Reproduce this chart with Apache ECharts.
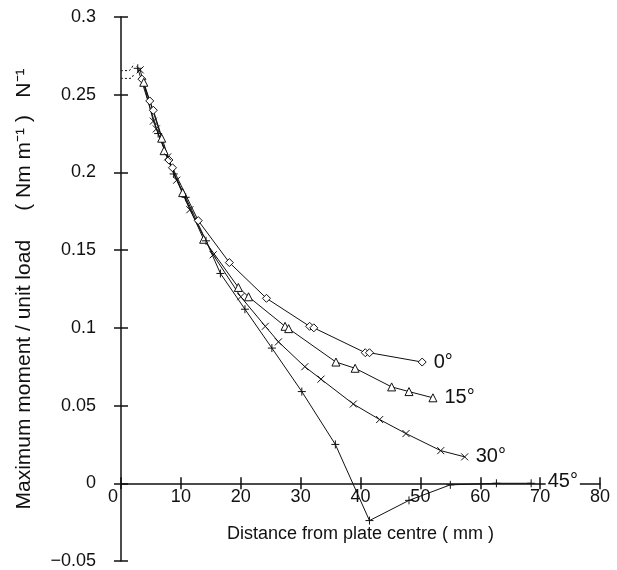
<!DOCTYPE html>
<html>
<head>
<meta charset="utf-8">
<script src="https://cdn.jsdelivr.net/npm/echarts@6/dist/echarts.min.js"></script>
<style>html,body{margin:0;padding:0;background:#fff}#c{width:617px;height:570px}</style>
</head>
<body>
<div id="c"></div>
<script>
// ---- data (distance mm, moment per unit load) ----
const xTicks = [0, 10, 20, 30, 40, 50, 60, 70, 80];
const yTicks = [-0.05, 0, 0.05, 0.1, 0.15, 0.2, 0.25, 0.3];
const seriesNames = ['0°', '15°', '30°', '45°'];
const angle0 = [[3.5,0.26],[4.8,0.246],[5.4,0.24],[8.0,0.208],[8.6,0.203],[12.9,0.169],[18.1,0.142],[24.3,0.119],[31.5,0.101],[32.2,0.100],[40.8,0.084],[41.5,0.084],[50.3,0.078]];
const angle15 = [[3.8,0.258],[6.8,0.222],[7.2,0.214],[10.3,0.187],[13.8,0.157],[19.6,0.126],[21.3,0.120],[27.4,0.101],[28.0,0.0995],[35.9,0.078],[39.1,0.074],[45.2,0.062],[48.1,0.059],[52.1,0.055]];
const angle30 = [[3.2,0.266],[5.4,0.233],[5.9,0.228],[7.8,0.21],[9.3,0.195],[11.5,0.176],[15.4,0.147],[20.0,0.12],[24.1,0.101],[26.3,0.091],[30.7,0.075],[33.4,0.067],[38.8,0.051],[43.2,0.041],[47.6,0.032],[53.4,0.021],[57.4,0.017]];
const angle45 = [[2.8,0.267],[6.2,0.225],[8.8,0.199],[10.8,0.184],[14.2,0.156],[16.6,0.135],[20.7,0.112],[25.2,0.087],[30.2,0.059],[35.8,0.025],[41.5,-0.024],[48.1,-0.011],[55.0,-0.001],[62.7,0],[68.5,0]];
const extrapUpper = [[0,0.2655],[1.2,0.2655],[2.1,0.27]];
const extrapLower = [[0,0.2605],[1.5,0.2605],[2.2,0.264]];

const FONT = "'Liberation Sans', Arial, sans-serif";
const INK = '#111';
const chart = echarts.init(document.getElementById('c'));

const crossPath = 'path://M0,0L10,10M10,0L0,10';
const plusPath = 'path://M5,0L5,10M0,5L10,5';

// layout
const GRID_TOP = 17, GRID_BOTTOM_PX = 561, H = 570;
const yMin = yTicks[0], yMax = yTicks[yTicks.length - 1];
const zeroOffset = -((GRID_BOTTOM_PX - GRID_TOP) * (0 - yMin) / (yMax - yMin));

function mkSeries(name, data, symbol, size, labelOpts) {
  const last = data.length - 1;
  return {
    name, type: 'line', data, symbol, symbolSize: size,
    xAxisIndex: 0, yAxisIndex: 0,
    lineStyle: { color: INK, width: 1 },
    itemStyle: { color: symbol.startsWith('path') ? 'transparent' : '#fff', borderColor: INK, borderWidth: 1 },
    label: Object.assign({
      show: true, position: 'right', distance: 7,
      fontFamily: FONT, fontSize: 20, color: INK,
      formatter: p => p.dataIndex === last ? name : ''
    }, labelOpts || {}),
    emphasis: { disabled: true },
    z: 5
  };
}

const yLab = v => {
  if (Math.abs(v) < 1e-9) return '0';
  let s = Math.abs(v).toFixed(2);
  if (s.endsWith('0')) s = s.slice(0, -1);
  return (v < 0 ? '\u2212' + s : s);
};

const axisLineStyle = { color: INK, width: 1.5 };

chart.setOption({
  animation: false,
  backgroundColor: '#fff',
  grid: { left: 121, right: 17, top: GRID_TOP, bottom: H - GRID_BOTTOM_PX, containLabel: false, outerBoundsMode: 'none' },
  xAxis: [
    {
      type: 'value', min: xTicks[0], max: xTicks[xTicks.length - 1], interval: 10,
      position: 'bottom', offset: zeroOffset,
      axisLine: { onZero: false, lineStyle: axisLineStyle },
      axisTick: { show: true, length: 6, lineStyle: { color: INK, width: 1.5 } },
      splitLine: { show: false },
      axisLabel: {
        fontFamily: FONT, fontSize: 18, color: INK, margin: 5,
        formatter: v => v === 0 ? '{z|0}' : String(v),
        rich: { z: { fontFamily: FONT, fontSize: 18, color: INK, padding: [0, 16, 0, 0] } }
      },
      name: 'Distance from plate centre ( mm )',
      nameLocation: 'middle', nameGap: 42,
      nameTextStyle: { fontFamily: FONT, fontSize: 18, color: INK }
    },
    {
      type: 'value', min: 0, max: 80, interval: 10, position: 'bottom', offset: zeroOffset,
      axisLine: { onZero: false, show: false },
      axisTick: { show: true, inside: true, length: 6, lineStyle: { color: INK, width: 1.5 } },
      axisLabel: { show: false }, splitLine: { show: false }
    }
  ],
  yAxis: [
    {
      type: 'value', min: yMin, max: yMax, interval: 0.05,
      position: 'left',
      axisLine: { show: true, onZero: false, lineStyle: axisLineStyle },
      axisTick: { show: true, length: 7, lineStyle: { color: INK, width: 1.5 } },
      splitLine: { show: false },
      axisLabel: { fontFamily: FONT, fontSize: 18, color: INK, margin: 25, formatter: yLab },
      name: 'Maximum moment / unit load     ( Nm m\u207B\u00B9 )   N\u207B\u00B9',
      nameLocation: 'middle', nameGap: 86, nameRotate: 90,
      nameTextStyle: { fontFamily: FONT, fontSize: 21, color: INK }
    },
    {
      type: 'value', min: yMin, max: yMax, interval: 0.05, position: 'left',
      axisLine: { show: false, onZero: false },
      axisTick: { show: true, inside: true, length: 7, lineStyle: { color: INK, width: 1.5 } },
      axisLabel: { show: false }, splitLine: { show: false }
    }
  ],
  series: [
    mkSeries(seriesNames[0], angle0, 'diamond', 8),
    mkSeries(seriesNames[1], angle15, 'triangle', 8),
    mkSeries(seriesNames[2], angle30, crossPath, 7),
    mkSeries(seriesNames[3], angle45, plusPath, 8, {
      distance: 10, backgroundColor: '#fff', padding: [0, 2, 0, 2],
      lineHeight: 14, offset: [0, -2]
    }),
    { type: 'line', data: extrapUpper, symbol: 'none', smooth: true,
      lineStyle: { color: INK, width: 1, type: [2, 2] }, z: 3 },
    { type: 'line', data: extrapLower, symbol: 'none', smooth: true,
      lineStyle: { color: INK, width: 1, type: [2, 2] }, z: 3 }
  ]
});
</script>
</body>
</html>
